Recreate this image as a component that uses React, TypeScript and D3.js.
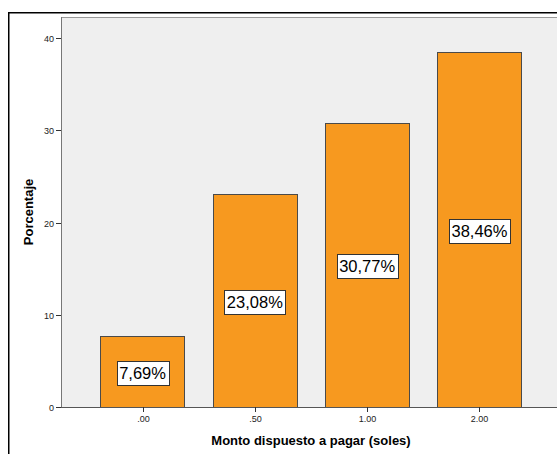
import React from "react";
import * as d3 from "d3";

const categories = [".00", ".50", "1.00", "2.00"];
const percentages = [7.69, 23.08, 30.77, 38.46];
const valueLabels = ["7,69%", "23,08%", "30,77%", "38,46%"];
const yTicks = [0, 10, 20, 30, 40];

const W = 557;
const H = 454;
const plot = { left: 61, right: 561, top: 17, bottom: 407 };

export default function App() {
  const x = d3
    .scaleBand<string>()
    .domain(categories)
    .range([plot.left, plot.right])
    .paddingInner(0.25)
    .paddingOuter(0.351);
  const y = d3.scaleLinear().domain([0, 42.28]).range([plot.bottom, plot.top]);
  const font = "'Liberation Sans', Arial, sans-serif";
  const labelFont = 16.5;
  const labelWidth = (s: string) => {
    let w = 0;
    for (const ch of s) {
      if (ch === ",") w += 0.278;
      else if (ch === "%") w += 0.889;
      else w += 0.556;
    }
    return w * labelFont;
  };

  return (
    <svg
      width={W}
      height={H}
      style={{ position: "absolute", left: 0, top: 0, background: "#fff" }}
      fontFamily={font}
    >
      {/* outer frame */}
      <rect x={8.75} y={12.75} width={600} height={500} fill="#fff" stroke="#000" strokeWidth={1.5} />
      {/* plot background */}
      <rect
        x={plot.left}
        y={plot.top}
        width={plot.right - plot.left}
        height={plot.bottom - plot.top}
        fill="#efefef"
      />
      <line x1={plot.left} x2={plot.right} y1={plot.top + 0.5} y2={plot.top + 0.5} stroke="#999" />
      <line x1={plot.left + 0.5} x2={plot.left + 0.5} y1={plot.top} y2={plot.bottom} stroke="#777" />

      {/* bars */}
      {categories.map((c, i) => {
        const x0 = x(c)!;
        const y0 = y(percentages[i]);
        return (
          <rect
            key={c}
            x={Math.round(x0) + 0.5}
            y={Math.round(y0) + 0.5}
            width={Math.round(x.bandwidth())}
            height={Math.round(y(0) - y0)}
            fill="#f7991f"
            stroke="#4a4a4a"
            strokeWidth={1}
          />
        );
      })}

      {/* x axis */}
      <line x1={plot.left - 5} x2={plot.right} y1={plot.bottom + 0.5} y2={plot.bottom + 0.5} stroke="#555" />
      {categories.map((c) => {
        const cx = Math.round(x(c)! + x.bandwidth() / 2) + 0.5;
        return (
          <g key={c}>
            <line x1={cx} x2={cx} y1={plot.bottom} y2={plot.bottom + 5} stroke="#333" />
            <text x={cx} y={plot.bottom + 15} fontSize={9} textAnchor="middle" fill="#222">
              {c}
            </text>
          </g>
        );
      })}

      {/* y axis */}
      {yTicks.map((t) => {
        const ty = Math.round(y(t)) + 0.5;
        return (
          <g key={t}>
            <line x1={plot.left - 5} x2={plot.left} y1={ty} y2={ty} stroke="#333" />
            <text x={plot.left - 7} y={ty + 3.2} fontSize={9} textAnchor="end" fill="#222">
              {t}
            </text>
          </g>
        );
      })}

      {/* value labels */}
      {categories.map((c, i) => {
        const cx = x(c)! + x.bandwidth() / 2;
        const cy = (y(percentages[i]) + y(0)) / 2 + 1;
        const w = labelWidth(valueLabels[i]) + 5;
        const h = 24;
        return (
          <g key={c}>
            <rect
              x={Math.round(cx - w / 2) + 0.5}
              y={Math.round(cy - h / 2) + 0.5}
              width={Math.round(w)}
              height={h}
              fill="#fff"
              stroke="#333"
            />
            <text x={cx} y={cy + 6} fontSize={labelFont} textAnchor="middle" fill="#000">
              {valueLabels[i]}
            </text>
          </g>
        );
      })}

      {/* axis titles */}
      <text
        x={(plot.left + plot.right) / 2}
        y={445}
        fontSize={13}
        fontWeight="bold"
        textAnchor="middle"
        fill="#000"
      >
        Monto dispuesto a pagar (soles)
      </text>
      <text
        transform={`translate(33, ${(plot.top + plot.bottom) / 2}) rotate(-90)`}
        fontSize={13}
        fontWeight="bold"
        textAnchor="middle"
        fill="#000"
      >
        Porcentaje
      </text>
    </svg>
  );
}
